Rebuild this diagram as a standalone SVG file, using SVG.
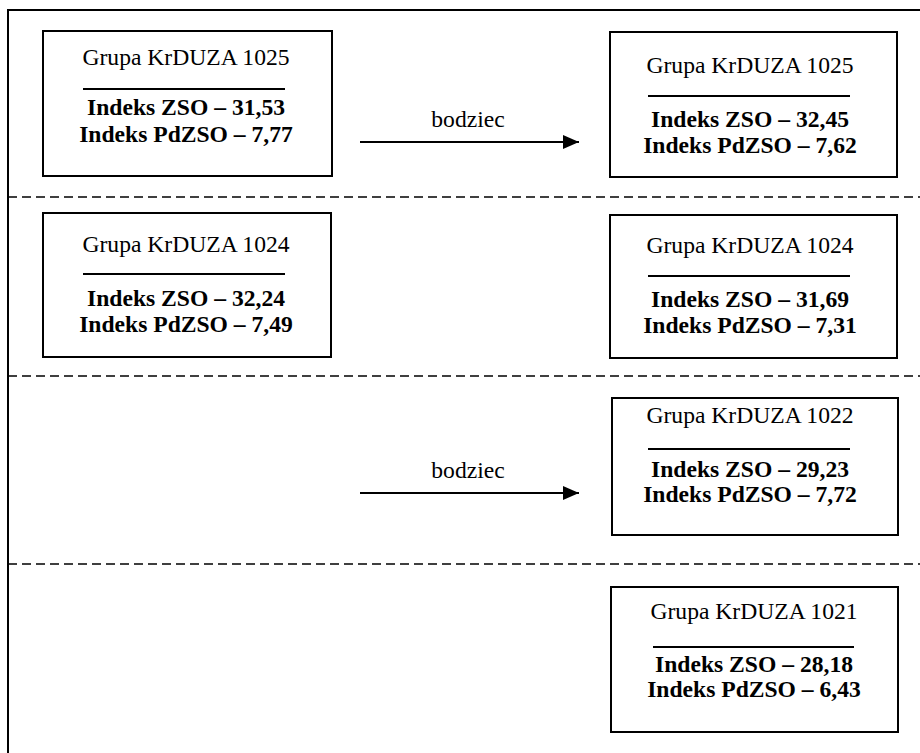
<svg xmlns="http://www.w3.org/2000/svg" width="920" height="753" viewBox="0 0 920 753">
<defs>
<style>
.box{fill:#fff;stroke:#000;stroke-width:2}
.rule{stroke:#000;stroke-width:2}
.dash{stroke:#000;stroke-width:1.6;stroke-dasharray:9 5;fill:none}
.frame{stroke:#000;stroke-width:2;fill:none}
.t{font-family:"Liberation Serif","Times New Roman",serif;font-size:23.6px;text-anchor:middle;fill:#000}
.b{font-weight:bold}
.conn{stroke:#000;stroke-width:2;fill:none}
</style>
<marker id="arr" markerWidth="16" markerHeight="14" refX="16" refY="7" orient="auto" markerUnits="userSpaceOnUse">
<path d="M0,0 L16,7 L0,14 Z" fill="#000"/>
</marker>
</defs>
<rect width="920" height="753" fill="#fff"/>
<path class="frame" d="M8,753 V10 H920"/>
<g id="separators">
<line class="dash" x1="8" y1="197" x2="920" y2="197"/>
<line class="dash" x1="8" y1="376" x2="920" y2="376"/>
<line class="dash" x1="8" y1="564" x2="920" y2="564"/>
</g>
<g id="n1025a">
<rect class="box" x="43" y="31" width="289" height="145"/>
<text class="t" x="186" y="65">Grupa KrDUZA 1025</text>
<line class="rule" x1="83" y1="89" x2="285" y2="89"/>
<text class="t b" x="186" y="115">Indeks ZSO – 31,53</text>
<text class="t b" x="186" y="142">Indeks PdZSO – 7,77</text>
</g>
<g id="n1025b">
<rect class="box" x="610" y="32" width="287" height="145"/>
<text class="t" x="750" y="73">Grupa KrDUZA 1025</text>
<line class="rule" x1="648" y1="96" x2="850" y2="96"/>
<text class="t b" x="750" y="127">Indeks ZSO – 32,45</text>
<text class="t b" x="750" y="153">Indeks PdZSO – 7,62</text>
</g>
<g id="n1024a">
<rect class="box" x="43" y="213" width="288" height="144"/>
<text class="t" x="186" y="252">Grupa KrDUZA 1024</text>
<line class="rule" x1="83" y1="274" x2="285" y2="274"/>
<text class="t b" x="186" y="306">Indeks ZSO – 32,24</text>
<text class="t b" x="186" y="332">Indeks PdZSO – 7,49</text>
</g>
<g id="n1024b">
<rect class="box" x="610" y="215" width="287" height="143"/>
<text class="t" x="750" y="253">Grupa KrDUZA 1024</text>
<line class="rule" x1="648" y1="276" x2="850" y2="276"/>
<text class="t b" x="750" y="307">Indeks ZSO – 31,69</text>
<text class="t b" x="750" y="333">Indeks PdZSO – 7,31</text>
</g>
<g id="n1022">
<rect class="box" x="612" y="398" width="286" height="137"/>
<text class="t" x="750" y="423">Grupa KrDUZA 1022</text>
<line class="rule" x1="648" y1="449" x2="850" y2="449"/>
<text class="t b" x="750" y="477">Indeks ZSO – 29,23</text>
<text class="t b" x="750" y="502">Indeks PdZSO – 7,72</text>
</g>
<g id="n1021">
<rect class="box" x="611" y="587" width="287" height="145"/>
<text class="t" x="754" y="619">Grupa KrDUZA 1021</text>
<line class="rule" x1="653" y1="647" x2="854" y2="647"/>
<text class="t b" x="754" y="672">Indeks ZSO – 28,18</text>
<text class="t b" x="754" y="697">Indeks PdZSO – 6,43</text>
</g>
<g id="connectors">
<line class="conn" x1="360" y1="142" x2="579" y2="142" marker-end="url(#arr)"/>
<text class="t" x="468" y="127">bodziec</text>
<line class="conn" x1="360" y1="493" x2="579" y2="493" marker-end="url(#arr)"/>
<text class="t" x="468" y="478">bodziec</text>
</g>
</svg>
